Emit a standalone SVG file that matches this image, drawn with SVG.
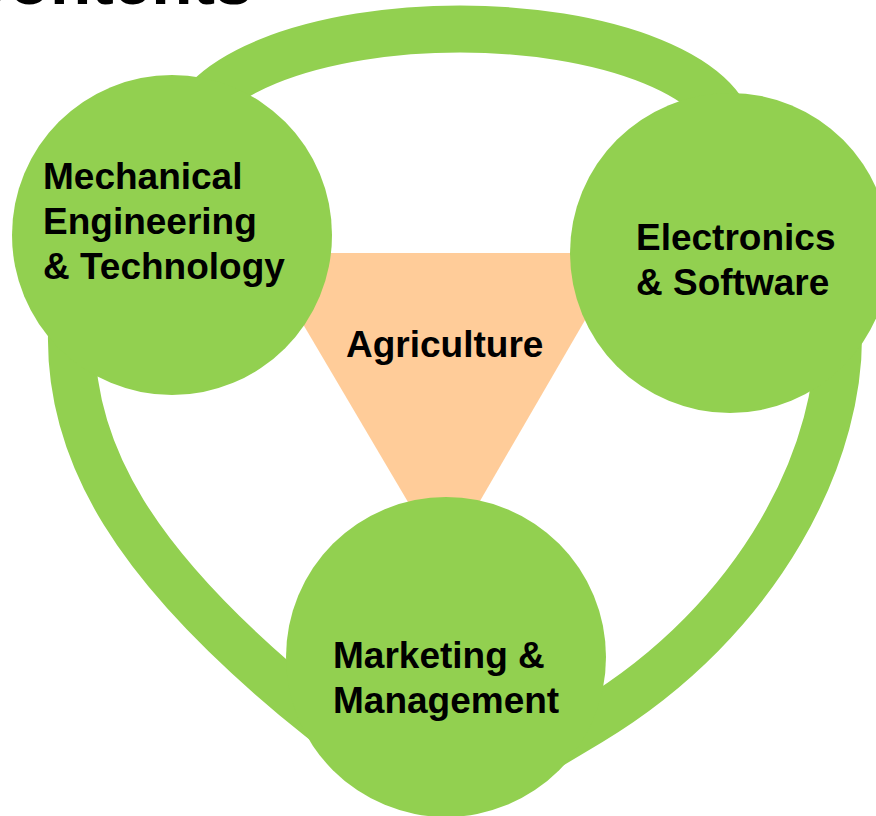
<svg xmlns="http://www.w3.org/2000/svg" width="876" height="816" viewBox="0 0 876 816">
<style>
.band{fill:none;stroke:#92D050;stroke-width:47}
.circ{fill:#92D050}
.lbl{font-family:"Liberation Sans",Arial,sans-serif;font-weight:bold;font-size:37px;fill:#000}
</style>
<rect width="876" height="816" fill="#fff"/>
<text x="-40" y="3.5" class="lbl" style="font-size:67.5px">Contents</text>
<g id="connectors">
<path class="band" d="M 188 140 A 272 111 0 0 1 732 140"/>
<path class="band" d="M 72 320 C 64 450 135 570 320 718 L 380 766"/>
<path class="band" d="M 838 320 C 846 450 760 620 590 722 L 520 764"/>
</g>
<g id="agriculture">
<polygon points="261,253 624,253 444,563" fill="#FFCC99"/>
<text x="346" y="357" class="lbl">Agriculture</text>
</g>
<g id="mechanical">
<circle class="circ" cx="172" cy="235" r="160"/>
<text class="lbl"><tspan x="43" y="189">Mechanical</tspan><tspan x="43" y="234">Engineering</tspan><tspan x="43" y="279">&amp; Technology</tspan></text>
</g>
<g id="electronics">
<circle class="circ" cx="730" cy="253" r="160"/>
<text class="lbl"><tspan x="636" y="250">Electronics</tspan><tspan x="636" y="295">&amp; Software</tspan></text>
</g>
<g id="marketing">
<circle class="circ" cx="446" cy="657" r="160"/>
<text class="lbl"><tspan x="333" y="668">Marketing &amp;</tspan><tspan x="333" y="713">Management</tspan></text>
</g>
</svg>
